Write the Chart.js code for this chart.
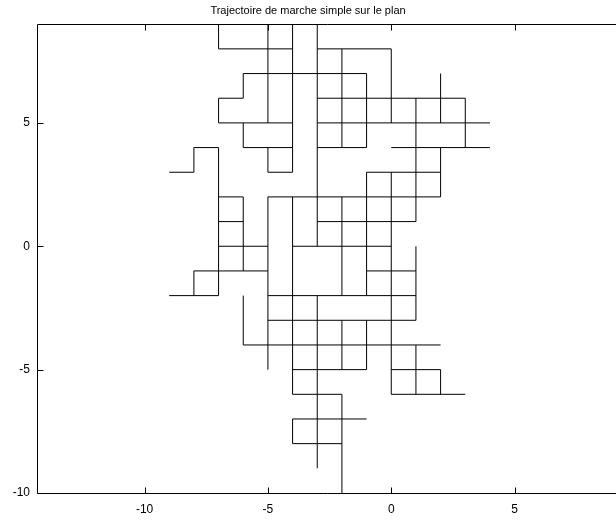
<!DOCTYPE html>
<html>
<head>
<meta charset="utf-8">
<script src="https://cdn.jsdelivr.net/npm/chart.js@4/dist/chart.umd.min.js"></script>
<style>
  html, body { margin: 0; padding: 0; background: #fff; }
  canvas { display: block; }
</style>
</head>
<body>
<canvas id="walk" width="616" height="522"></canvas>
<script>
// horizontal pieces of the walk : y, from x, to x
const hY    = [9, 8, 8, 7, 6, 6, 5, 5, 4, 4, 4, 4, 3, 3, 3, 2, 2, 1, 1, 0, 0, -1, -1, -2, -2, -3, -4, -5, -5, -6, -6, -7, -8];
const hFrom = [-7, -7, -3, -6, -7, -3, -7, -3, -8, -6, -3, 0, -9, -5, -1, -7, -5, -7, -3, -7, -4, -8, -1, -9, -5, -5, -6, -4, 0, -4, 0, -4, -4];
const hTo   = [-3, -4, 0, -1, -6, 3, -4, 4, -7, -4, -1, 4, -8, -4, 2, -6, 2, -6, 1, -5, 0, -5, 1, -7, 1, 1, 2, -1, 2, -2, 3, -1, -2];

// vertical pieces : x, from y, to y
const vX    = [-8, -8, -7, -7, -7, -6, -6, -6, -6, -5, -5, -5, -4, -4, -4, -3, -3, -2, -2, -2, -2, -1, -1, -1, 0, 0, 1, 1, 1, 2, 2, 2, 3];
const vFrom = [3, -2, 8, 5, -2, 6, 4, -1, -4, 5, 3, -5, 3, -6, -8, 0, -9, 4, -2, -5, -10, 4, -2, -5, 5, -6, 1, -3, -6, 5, 2, -6, 4];
const vTo   = [4, -1, 9, 6, 4, 7, 5, 2, -2, 9, 4, 2, 9, 2, -7, 9, -2, 8, 2, -3, -6, 7, 3, -3, 8, 3, 6, 0, -4, 7, 4, -5, 6];

const xTicks = [-10, -5, 0, 5];
const yTicks = [-10, -5, 0, 5];

// tout mettre dans une seule serie, coupee par des points vides
const walkPts = [];
hY.forEach((y, i) => {
  walkPts.push({ x: hFrom[i], y: y }, { x: hTo[i], y: y }, { x: hTo[i], y: null });
});
vX.forEach((x, i) => {
  walkPts.push({ x: x, y: vFrom[i] }, { x: x, y: vTo[i] }, { x: x, y: null });
});

const tickFont = { family: "'Liberation Sans', Arial, sans-serif", size: 12 };

// cadre (le bord droit tombe hors de l'image) + graduations vers l'interieur
const framePlugin = {
  id: "framePlugin",
  afterDraw: (chart) => {
    const ctx = chart.ctx;
    const a = chart.chartArea;
    const l = Math.round(a.left) + 0.5, r = a.right + 2;
    const t = Math.round(a.top) + 0.5, b = Math.round(a.bottom) + 0.5;
    ctx.save();
    ctx.strokeStyle = "#000";
    ctx.lineWidth = 1;
    ctx.beginPath();
    ctx.moveTo(r, t); ctx.lineTo(l, t); ctx.lineTo(l, b); ctx.lineTo(r, b);
    xTicks.forEach((v) => {
      const px = Math.round(chart.scales.x.getPixelForValue(v)) + 0.5;
      ctx.moveTo(px, b); ctx.lineTo(px, b - 6);
      ctx.moveTo(px, t); ctx.lineTo(px, t + 6);
    });
    yTicks.forEach((v) => {
      const py = Math.round(chart.scales.y.getPixelForValue(v)) + 0.5;
      ctx.moveTo(l, py); ctx.lineTo(l + 6, py);
    });
    ctx.stroke();
    ctx.restore();
  },
};

new Chart(document.getElementById("walk").getContext("2d"), {
  type: "scatter",
  data: {
    datasets: [
      {
        data: walkPts,
        showLine: true,
        spanGaps: false,
        borderColor: "#000",
        borderWidth: 1,
        pointRadius: 0,
        fill: false,
      },
    ],
  },
  options: {
    responsive: false,
    animation: false,
    layout: { padding: 0 },
    plugins: {
      legend: { display: false },
      tooltip: { enabled: false },
      title: {
        display: true,
        text: "Trajectoire de marche simple sur le plan",
        color: "#000",
        font: { family: "'Liberation Sans', Arial, sans-serif", size: 11, weight: "normal" },
        padding: { top: 4, bottom: 7 },
      },
    },
    scales: {
      x: {
        type: "linear",
        min: -14.36,
        max: 9.11,
        grid: { display: false, drawTicks: false },
        border: { display: false },
        ticks: { color: "#000", font: tickFont, padding: 9, maxRotation: 0 },
        afterBuildTicks: (axis) => { axis.ticks = xTicks.map((v) => ({ value: v })); },
        afterFit: (scale) => { scale.height = 29; },
      },
      y: {
        type: "linear",
        min: -10,
        max: 9,
        grid: { display: false, drawTicks: false },
        border: { display: false },
        ticks: { color: "#000", font: tickFont, padding: 7 },
        afterBuildTicks: (axis) => { axis.ticks = yTicks.map((v) => ({ value: v })); },
        afterFit: (scale) => { scale.width = 37; },
      },
    },
  },
  plugins: [framePlugin],
});
</script>
</body>
</html>
